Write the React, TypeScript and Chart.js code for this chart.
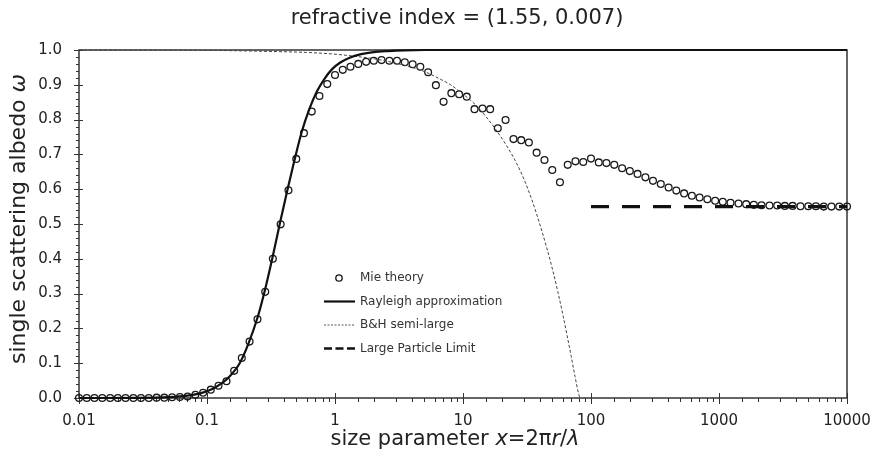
import React, { useEffect, useRef } from "react";
import { Chart, registerables } from "chart.js";

Chart.register(...registerables);

// Mie theory points (size parameter x, single scattering albedo)
const mieX = [
  0.01, 0.0115, 0.0132, 0.0152, 0.0175, 0.0201, 0.0231, 0.0266, 0.0305, 0.0351,
  0.0404, 0.0464, 0.0534, 0.0614, 0.0705, 0.0811, 0.0933, 0.107, 0.123, 0.142,
  0.163, 0.187, 0.215, 0.248, 0.285, 0.327, 0.376, 0.433, 0.498, 0.572,
  0.658, 0.756, 0.87, 1.0, 1.15, 1.32, 1.52, 1.75, 2.01, 2.31,
  2.66, 3.05, 3.51, 4.04, 4.64, 5.34, 6.14, 7.05, 8.11, 9.33,
  10.7, 12.3, 14.2, 16.3, 18.7, 21.5, 24.8, 28.5, 32.7, 37.6,
  43.3, 49.8, 57.2, 65.8, 75.6, 87.0, 100, 115, 132, 152,
  175, 201, 231, 266, 305, 351, 404, 464, 534, 614,
  705, 811, 933, 1070, 1230, 1420, 1630, 1870, 2150, 2480,
  2850, 3270, 3760, 4330, 4980, 5720, 6580, 7560, 8700, 10000,
];
const mieY = [
  0, 0, 0, 0, 0, 0, 0, 0, 0, 0,
  0.001, 0.001, 0.002, 0.003, 0.004, 0.009, 0.015, 0.024, 0.035, 0.048,
  0.078, 0.115, 0.162, 0.226, 0.305, 0.4, 0.499, 0.597, 0.687, 0.761,
  0.823, 0.868, 0.902, 0.928, 0.943, 0.952, 0.96, 0.966, 0.969, 0.971,
  0.969, 0.969, 0.965, 0.959, 0.952, 0.936, 0.899, 0.851, 0.876, 0.873,
  0.866, 0.83, 0.832, 0.83, 0.775, 0.799, 0.744, 0.741, 0.734, 0.705,
  0.684, 0.655, 0.62, 0.67, 0.68, 0.678, 0.688, 0.677, 0.675, 0.67,
  0.66, 0.652, 0.644, 0.634, 0.624, 0.615, 0.605, 0.596, 0.588, 0.581,
  0.576, 0.571, 0.567, 0.564, 0.561, 0.559, 0.557, 0.555, 0.554, 0.553,
  0.553, 0.552, 0.552, 0.551, 0.551, 0.551, 0.55, 0.55, 0.55, 0.55,
];

// Rayleigh approximation curve
const rayleighX = [
  0.01, 0.03, 0.05, 0.07, 0.09, 0.11, 0.13, 0.15, 0.18, 0.21, 0.25, 0.29, 0.33,
  0.37, 0.42, 0.48, 0.55, 0.63, 0.72, 0.83, 0.95, 1.1, 1.3, 1.6, 2, 2.6, 3.5, 5, 10000,
];
const rayleighY = [
  0, 0.0005, 0.0025, 0.0067, 0.014, 0.026, 0.042, 0.062, 0.1, 0.155, 0.235, 0.325, 0.415,
  0.5, 0.59, 0.68, 0.765, 0.83, 0.88, 0.918, 0.945, 0.964, 0.978, 0.988, 0.994, 0.997, 0.999, 1.0, 1.0,
];

// B&H semi-large curve
const bhX = [
  0.01, 0.1, 0.3, 0.6, 1, 1.5, 2, 3, 4, 5, 6.5, 8, 10, 12.5, 15, 18, 22, 26, 30,
  35, 40, 45, 50, 55, 60, 65, 70, 75, 80, 82,
];
const bhY = [
  1.0, 0.999, 0.996, 0.993, 0.988, 0.981, 0.975, 0.962, 0.95, 0.938, 0.918, 0.9, 0.873,
  0.843, 0.81, 0.772, 0.724, 0.677, 0.628, 0.563, 0.497, 0.433, 0.37, 0.306, 0.243, 0.18,
  0.12, 0.062, 0.012, 0.0,
];

// Large particle limit
const largeX = [100, 10000];
const largeY = [0.55, 0.55];

const xTickLabels = ["0.01", "0.1", "1", "10", "100", "1000", "10000"];
const yTickLabels = ["0.0", "0.1", "0.2", "0.3", "0.4", "0.5", "0.6", "0.7", "0.8", "0.9", "1.0"];

const legendLabels = ["Mie theory", "Rayleigh approximation", "B&H semi-large", "Large Particle Limit"];
const titleText = "refractive index = (1.55, 0.007)";

const FONT = "'DejaVu Sans', sans-serif";
const INK = "#222";

function toPts(xs: number[], ys: number[]) {
  return xs.map((x, i) => ({ x, y: ys[i] }));
}

function drawMixed(ctx: CanvasRenderingContext2D, parts: [string, boolean][], size: number, cx: number, cy: number) {
  const fontFor = (it: boolean) => `${it ? "italic " : ""}${size}px ${FONT}`;
  let total = 0;
  const widths = parts.map(([t, it]) => {
    ctx.font = fontFor(it);
    const w = ctx.measureText(t).width;
    total += w;
    return w;
  });
  let x = cx - total / 2;
  ctx.textAlign = "left";
  ctx.textBaseline = "middle";
  parts.forEach(([t, it], i) => {
    ctx.font = fontFor(it);
    ctx.fillText(t, x, cy);
    x += widths[i];
  });
}

const decorPlugin = {
  id: "decor",
  beforeDatasetsDraw(chart: any) {
    const { ctx, chartArea } = chart;
    const { left, right, top, bottom } = chartArea;
    ctx.save();
    ctx.strokeStyle = "#333";
    ctx.lineWidth = 1.5;
    ctx.strokeRect(left, top, right - left, bottom - top);

    ctx.lineWidth = 1;
    ctx.beginPath();
    const xs = chart.scales.x;
    xs.ticks.forEach((t: any) => {
      const px = Math.round(xs.getPixelForValue(t.value)) + 0.5;
      const e = Math.log10(t.value);
      const major = Math.abs(e - Math.round(e)) < 1e-6;
      ctx.moveTo(px, major ? bottom - 5 : bottom);
      ctx.lineTo(px, bottom + (major ? 6 : 4));
    });
    const ys = chart.scales.y;
    ys.ticks.forEach((t: any, i: number) => {
      const py = Math.round(ys.getPixelForValue(t.value)) + 0.5;
      const major = i % 5 === 0;
      ctx.moveTo(left - (major ? 5 : 3), py);
      ctx.lineTo(left + (major ? 4 : 0), py);
    });
    ctx.stroke();
    ctx.restore();
  },
  afterDraw(chart: any) {
    const { ctx, chartArea } = chart;
    const { left, right, top, bottom } = chartArea;
    ctx.save();
    ctx.fillStyle = INK;

    // title
    drawMixed(ctx, [[titleText, false]], 21, (left + right) / 2 - 6, 19);
    // x axis title
    drawMixed(
      ctx,
      [["size parameter ", false], ["x", true], ["=2π", false], ["r", true], ["/", false], ["λ", true]],
      21,
      (left + right) / 2 - 8,
      440
    );
    // y axis title
    ctx.save();
    ctx.translate(19, (top + bottom) / 2 - 5);
    ctx.rotate(-Math.PI / 2);
    drawMixed(ctx, [["single scattering albedo ", false], ["ω", true]], 22, 0, 0);
    ctx.restore();

    // legend
    const lx0 = left + 245;
    const lx1 = left + 276;
    const tx = left + 281;
    const rows = [top + 228, top + 251.5, top + 275, top + 298.5];
    ctx.strokeStyle = "#111";
    // Mie
    ctx.lineWidth = 1.3;
    ctx.beginPath();
    ctx.arc(left + 260, rows[0], 3.2, 0, Math.PI * 2);
    ctx.stroke();
    // Rayleigh
    ctx.lineWidth = 2.2;
    ctx.beginPath();
    ctx.moveTo(lx0, rows[1]);
    ctx.lineTo(lx1, rows[1]);
    ctx.stroke();
    // B&H
    ctx.lineWidth = 1;
    ctx.strokeStyle = "#555";
    ctx.setLineDash([2, 1.5]);
    ctx.beginPath();
    ctx.moveTo(lx0, rows[2]);
    ctx.lineTo(lx1, rows[2]);
    ctx.stroke();
    // Large
    ctx.strokeStyle = "#111";
    ctx.lineWidth = 2.6;
    ctx.setLineDash([8, 3.5]);
    ctx.beginPath();
    ctx.moveTo(lx0, rows[3]);
    ctx.lineTo(lx1 + 1, rows[3]);
    ctx.stroke();
    ctx.setLineDash([]);

    ctx.fillStyle = "#333";
    ctx.font = `12px ${FONT}`;
    ctx.textAlign = "left";
    ctx.textBaseline = "middle";
    legendLabels.forEach((l, i) => ctx.fillText(l, tx, rows[i]));
    ctx.restore();
  },
};

export default function App() {
  const ref = useRef<HTMLCanvasElement | null>(null);

  useEffect(() => {
    document.body.style.margin = "0";
    const canvas = ref.current;
    if (!canvas) return;
    const chart = new Chart(canvas, {
      type: "line",
      data: {
        datasets: [
          {
            label: legendLabels[1],
            data: toPts(rayleighX, rayleighY),
            borderColor: "#111",
            borderWidth: 2.2,
            pointRadius: 0,
            cubicInterpolationMode: "monotone",
            fill: false,
            clip: false,
          } as any,
          {
            label: legendLabels[2],
            data: toPts(bhX, bhY),
            borderColor: "#444",
            borderWidth: 1,
            borderDash: [3, 2],
            pointRadius: 0,
            cubicInterpolationMode: "monotone",
            fill: false,
            clip: false,
          } as any,
          {
            label: legendLabels[3],
            data: toPts(largeX, largeY),
            borderColor: "#111",
            borderWidth: 3.2,
            borderDash: [18, 13],
            pointRadius: 0,
            fill: false,
          } as any,
          {
            label: legendLabels[0],
            data: toPts(mieX, mieY),
            showLine: false,
            pointRadius: 3.4,
            pointBorderWidth: 1.3,
            pointBorderColor: "#1a1a1a",
            pointBackgroundColor: "rgba(255,255,255,0)",
            clip: false,
          } as any,
        ],
      },
      options: {
        responsive: false,
        animation: false,
        events: [],
        layout: { padding: { top: 50, right: 25, left: 0, bottom: 0 } },
        plugins: {
          legend: { display: false },
          title: { display: false },
          tooltip: { enabled: false },
        },
        scales: {
          x: {
            type: "logarithmic",
            min: 0.01,
            max: 10000,
            grid: { display: false, drawTicks: false },
            border: { display: false },
            afterFit: (s: any) => {
              s.height = 58;
              s.paddingLeft = 0;
              s.paddingRight = 0;
            },
            ticks: {
              autoSkip: false,
              maxRotation: 0,
              padding: 14,
              color: INK,
              font: { family: FONT, size: 15 },
              callback: (v: any) => {
                const e = Math.log10(Number(v));
                if (Math.abs(e - Math.round(e)) < 1e-6) {
                  return xTickLabels[Math.round(e) + 2] ?? "";
                }
                return "";
              },
            },
          },
          y: {
            type: "linear",
            min: 0,
            max: 1,
            grid: { display: false, drawTicks: false },
            border: { display: false },
            afterFit: (s: any) => {
              s.width = 79;
              s.paddingTop = 0;
              s.paddingBottom = 0;
            },
            ticks: {
              stepSize: 0.02,
              autoSkip: false,
              padding: 17,
              color: INK,
              font: { family: FONT, size: 15 },
              callback: (_v: any, i: number) => (i % 5 === 0 ? yTickLabels[i / 5] ?? "" : ""),
            },
          },
        },
      },
      plugins: [decorPlugin],
    } as any);
    return () => chart.destroy();
  }, []);

  return (
    <div style={{ width: 872, height: 456, background: "#fff" }}>
      <canvas ref={ref} width={872} height={456} style={{ display: "block", width: 872, height: 456 }} />
    </div>
  );
}
